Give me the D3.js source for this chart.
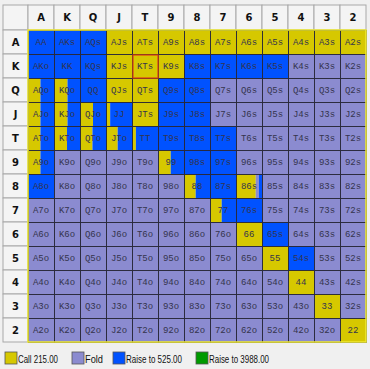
<!DOCTYPE html>
<html>
<head>
<meta charset="utf-8">
<script src="https://cdn.jsdelivr.net/npm/d3@7"></script>
<style>
  html, body { margin: 0; padding: 0; background: #f0f0f0; }
  svg { display: block; }
</style>
</head>
<body>
<div id="chart"></div>
<script>
// Hand range grid: rows/cols are card ranks, upper triangle suited, lower offsuit
const ranks = ['A', 'K', 'Q', 'J', 'T', '9', '8', '7', '6', '5', '4', '3', '2'];

// fraction of each hand that calls (row = first rank index, col = second)
const callFreq = [
  [0, 0, 0, 1, 1, 1, 1, 1, 1, 1, 1, 1, 1],
  [0, 0, 0, 1, 1, 1, 0, 0, 0, 0, 0, 0, 0],
  [0.48, 0.52, 0, 1, 1, 0, 0, 0, 0, 0, 0, 0, 0],
  [0.48, 0.52, 0.5, 0.16, 1, 0, 0, 0, 0, 0, 0, 0, 0],
  [0.48, 0.5, 0.48, 0.45, 0.15, 0, 0, 0, 0, 0, 0, 0, 0],
  [0.48, 0, 0, 0, 0, 0.49, 0, 0, 0, 0, 0, 0, 0],
  [0, 0, 0, 0, 0, 0, 0.45, 0, 0.76, 0, 0, 0, 0],
  [0, 0, 0, 0, 0, 0, 0, 0.45, 0, 0, 0, 0, 0],
  [0, 0, 0, 0, 0, 0, 0, 0, 1, 0, 0, 0, 0],
  [0, 0, 0, 0, 0, 0, 0, 0, 0, 1, 0, 0, 0],
  [0, 0, 0, 0, 0, 0, 0, 0, 0, 0, 1, 0, 0],
  [0, 0, 0, 0, 0, 0, 0, 0, 0, 0, 0, 1, 0],
  [0, 0, 0, 0, 0, 0, 0, 0, 0, 0, 0, 0, 1]
];

// fraction that raises to 525
const raiseFreq = [
  [1, 1, 1, 0, 0, 0, 0, 0, 0, 0, 0, 0, 0],
  [1, 1, 1, 0, 0, 0, 1, 1, 1, 1, 0, 0, 0],
  [0.52, 0.48, 1, 0, 0, 1, 1, 0, 0, 0, 0, 0, 0],
  [0.52, 0.48, 0.5, 0.84, 0, 1, 1, 0, 0, 0, 0, 0, 0],
  [0.52, 0.5, 0.52, 0.55, 0.85, 1, 1, 1, 0, 0, 0, 0, 0],
  [0.52, 0, 0, 0, 0, 0.51, 1, 1, 0, 0, 0, 0, 0],
  [1, 0, 0, 0, 0, 0, 0.55, 1, 0.12, 0, 0, 0, 0],
  [0, 0, 0, 0, 0, 0, 0, 0.55, 1, 0, 0, 0, 0],
  [0, 0, 0, 0, 0, 0, 0, 0, 0, 1, 0, 0, 0],
  [0, 0, 0, 0, 0, 0, 0, 0, 0, 0, 1, 0, 0],
  [0, 0, 0, 0, 0, 0, 0, 0, 0, 0, 0, 0, 0],
  [0, 0, 0, 0, 0, 0, 0, 0, 0, 0, 0, 0, 0],
  [0, 0, 0, 0, 0, 0, 0, 0, 0, 0, 0, 0, 0]
];

const actionLabels = ['Call 215.00', 'Fold', 'Raise to 525.00', 'Raise to 3988.00'];
const actionColors = ['#d6c800', '#8b8bd0', '#0052ff', '#009a00'];
const selectedHand = 'KTs';

const width = 370, height = 369;

const svg = d3.select('#chart').append('svg')
  .attr('width', width).attr('height', height);

svg.append('rect').attr('width', width).attr('height', height).attr('fill', '#f0f0f0');

const x = d3.scaleBand().domain(ranks).range([28, 366]);
const y = d3.scaleBand().domain(ranks).range([30, 342]);
const headTop = 5, headLeft = 3;

// header cells
const head = svg.append('g');
head.append('rect')
  .attr('x', headLeft).attr('y', headTop)
  .attr('width', x.range()[0] - headLeft).attr('height', y.range()[0] - headTop)
  .attr('fill', '#f4f4f4').attr('stroke', '#a8a8a8');
head.selectAll('.colhead').data(ranks).enter().append('rect')
  .attr('x', d => x(d)).attr('y', headTop)
  .attr('width', x.bandwidth()).attr('height', y.range()[0] - headTop)
  .attr('fill', '#f4f4f4').attr('stroke', '#a8a8a8');
head.selectAll('.rowhead').data(ranks).enter().append('rect')
  .attr('x', headLeft).attr('y', d => y(d))
  .attr('width', x.range()[0] - headLeft).attr('height', y.bandwidth())
  .attr('fill', '#f4f4f4').attr('stroke', '#a8a8a8');
head.selectAll('.colt').data(ranks).enter().append('text')
  .attr('x', d => x(d) + x.bandwidth() / 2).attr('y', (headTop + y.range()[0]) / 2 + 0.5)
  .attr('text-anchor', 'middle').attr('dominant-baseline', 'middle')
  .attr('font-family', 'DejaVu Sans, sans-serif').attr('font-size', '10px').attr('font-weight', 'bold')
  .attr('fill', '#111').text(d => d);
head.selectAll('.rowt').data(ranks).enter().append('text')
  .attr('x', (headLeft + x.range()[0]) / 2).attr('y', d => y(d) + y.bandwidth() / 2 + 0.5)
  .attr('text-anchor', 'middle').attr('dominant-baseline', 'middle')
  .attr('font-family', 'DejaVu Sans, sans-serif').attr('font-size', '10px').attr('font-weight', 'bold')
  .attr('fill', '#111').text(d => d);

// build cells
const cells = [];
ranks.forEach((r, i) => {
  ranks.forEach((c, j) => {
    let name;
    if (i === j) name = r + c;
    else if (i < j) name = r + c + 's';
    else name = c + r + 'o';
    const call = callFreq[i][j], raise = raiseFreq[i][j];
    const fold = Math.max(0, 1 - call - raise);
    cells.push({ row: r, col: c, name, parts: [call, fold, raise] });
  });
});

const grid = svg.append('g');
const cellG = grid.selectAll('g.cell').data(cells).enter().append('g').attr('class', 'cell');

cellG.each(function(d) {
  const g = d3.select(this);
  const fx = d3.scaleLinear().domain([0, 1]).range([x(d.col), x(d.col) + x.bandwidth()]);
  let acc = 0;
  d.parts.forEach((p, k) => {
    if (p <= 0) return;
    g.append('rect')
      .attr('x', fx(acc)).attr('y', y(d.row))
      .attr('width', fx(acc + p) - fx(acc)).attr('height', y.bandwidth())
      .attr('fill', actionColors[k]);
    acc += p;
  });
});

// cell borders
grid.selectAll('rect.border').data(cells).enter().append('rect')
  .attr('x', d => x(d.col) + 0.5).attr('y', d => y(d.row) + 0.5)
  .attr('width', x.bandwidth()).attr('height', y.bandwidth())
  .attr('fill', 'none').attr('stroke', '#2a2a3a').attr('stroke-width', 0.8);

grid.selectAll('text.lbl').data(cells).enter().append('text')
  .attr('x', d => x(d.col) + x.bandwidth() / 2).attr('y', d => y(d.row) + y.bandwidth() / 2 + 0.5)
  .attr('text-anchor', 'middle').attr('dominant-baseline', 'middle')
  .attr('font-family', 'Liberation Mono, monospace').attr('font-size', '9px')
  .attr('fill', '#34344c').text(d => d.name);

// outer yellow frame of grid
grid.append('rect')
  .attr('x', x.range()[0]).attr('y', y.range()[0])
  .attr('width', x.range()[1] - x.range()[0]).attr('height', y.range()[1] - y.range()[0])
  .attr('fill', 'none').attr('stroke', '#f0ea30').attr('stroke-width', 1.5);

// selected hand outline
const sel = cells.find(d => d.name === selectedHand);
grid.append('rect')
  .attr('x', x(sel.col) + 1).attr('y', y(sel.row) + 1)
  .attr('width', x.bandwidth() - 1).attr('height', y.bandwidth() - 1)
  .attr('fill', 'none').attr('stroke', '#e04010').attr('stroke-width', 1.2);

// legend
const legendX = [5, 72, 113, 196];
const legendW = [40, 18, 56, 60];
const legend = svg.append('g');
const li = legend.selectAll('g').data(actionLabels).enter().append('g')
  .attr('transform', (d, i) => `translate(${legendX[i]},352)`);
li.append('rect').attr('width', 12).attr('height', 12)
  .attr('fill', (d, i) => actionColors[i]).attr('stroke', '#555').attr('stroke-width', 0.8);
li.append('text').attr('x', 13).attr('y', 10.5)
  .attr('font-family', 'Liberation Sans, Arial, sans-serif').attr('font-size', '11px')
  .attr('fill', '#111')
  .attr('textLength', (d, i) => legendW[i]).attr('lengthAdjust', 'spacingAndGlyphs')
  .text(d => d);
</script>
</body>
</html>
